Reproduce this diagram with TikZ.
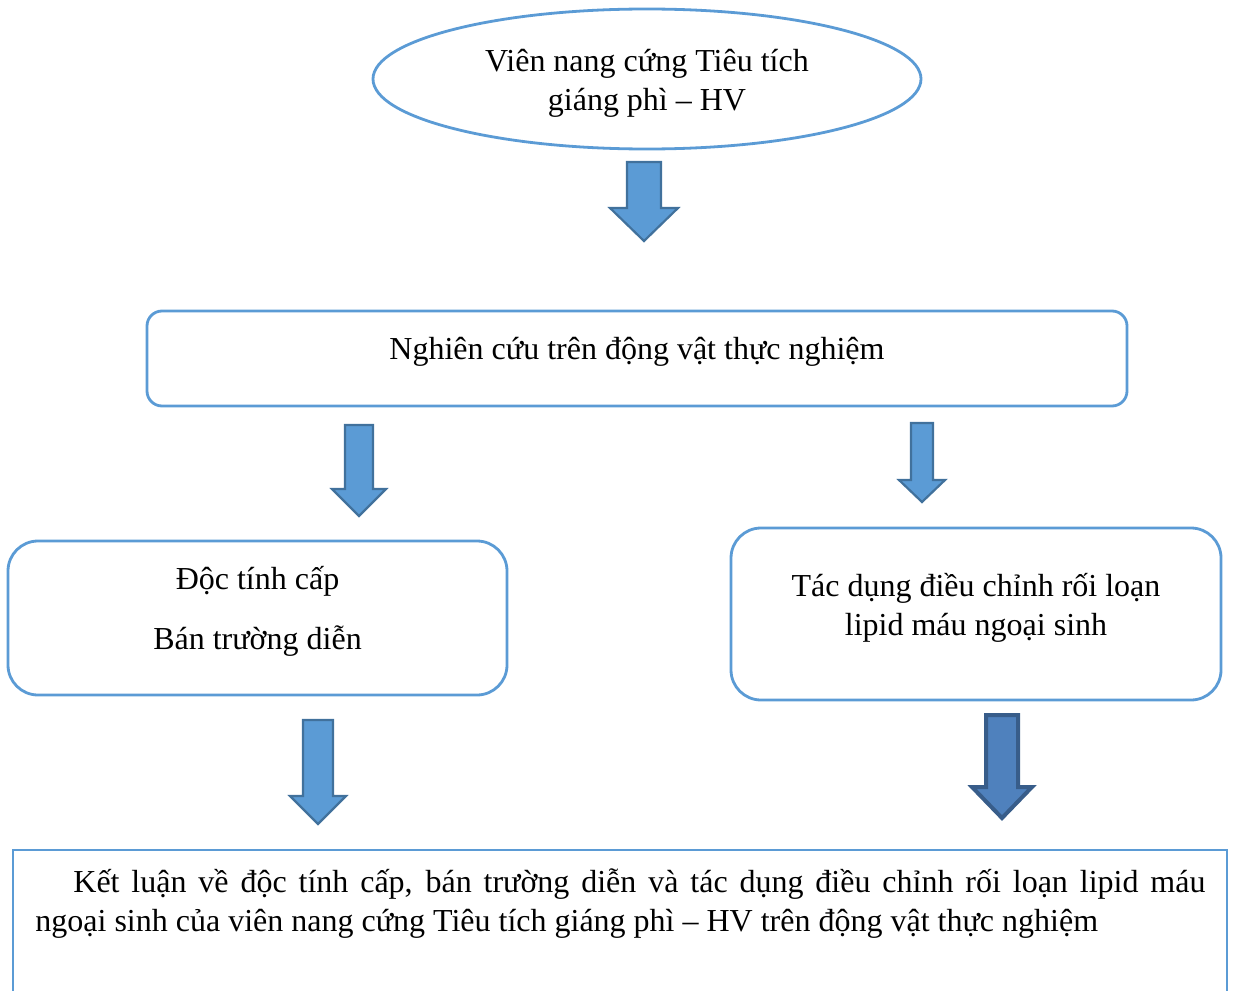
\documentclass[tikz,border=0pt]{standalone}
\usepackage{fontspec}
\setmainfont{Liberation Serif}
\usetikzlibrary{shapes.geometric}

\definecolor{officeblue}{HTML}{5B9BD5}
\definecolor{arrowline}{HTML}{41719C}
\definecolor{darkfill}{HTML}{4F81BD}
\definecolor{darkline}{HTML}{385D8A}

% lift a text block without changing the box size
\newcommand{\liftby}[2]{\raisebox{#1}[\height][\depth]{\begin{tabular}{@{}c@{}}#2\end{tabular}}}

\begin{document}
\begin{tikzpicture}[x=0.5pt,y=-0.5pt,
  font=\fontsize{16}{19.5}\selectfont,
  frame/.style={draw=officeblue,line width=1.4pt,fill=white,inner sep=0pt},
  roundbox/.style={frame,rounded corners=#1},
  blockarrow/.style={fill=officeblue,draw=arrowline,line width=1.1pt,line join=miter}]
\useasboundingbox (0,0) rectangle (1235,990);

% top oval, study box, the two result boxes and the conclusion box
\node[frame,ellipse,minimum width=274pt,minimum height=70pt]
  (drug) at (647,79) {\liftby{-2pt}{Viên nang cứng Tiêu tích\\giáng phì -- HV}};
\node[roundbox=7.5pt,minimum width=490pt,minimum height=47.5pt]
  (study) at (637,358.5) {\liftby{3.25pt}{Nghiên cứu trên động vật thực nghiệm}};
\node[roundbox=15pt,minimum width=249.5pt,minimum height=77pt]
  (tox) at (257.5,618) {\liftby{3pt}{Độc tính cấp\\[10.5pt]Bán trường diễn}};
\node[roundbox=15pt,minimum width=245pt,minimum height=86pt]
  (lipid) at (976,614) {\liftby{3pt}{Tác dụng điều chỉnh rối loạn\\lipid máu ngoại sinh}};
\draw[draw=officeblue,line width=1.4pt] (13,1010) |- (1227,850) -- (1227,1010);
\node[anchor=north west,inner sep=0pt,text width=585pt,align=justify]
  (concl) at (35,868) {\hspace*{19pt}Kết luận về độc tính cấp, bán trường diễn và tác dụng điều chỉnh rối loạn lipid máu\linebreak ngoại sinh của viên nang cứng Tiêu tích giáng phì -- HV trên động vật thực nghiệm};

% block arrows: centre x / top / neck / tip / half shaft / half head
\foreach \cx/\ya/\yb/\yc/\sw/\hw in {%
  644/162/208/241/17/34,%
  359/425/489/516/14/27,%
  922/423/480/502/11/23,%
  318/720/796/824/15/28}{
  \filldraw[blockarrow] (\cx-\sw,\ya) -- (\cx+\sw,\ya) -- (\cx+\sw,\yb) -- (\cx+\hw,\yb)
    -- (\cx,\yc) -- (\cx-\hw,\yb) -- (\cx-\sw,\yb) -- cycle;
}
\filldraw[blockarrow,fill=darkfill,draw=darkline,line width=2pt]
  (986,715) -- (1018,715) -- (1018,787) -- (1032,787) -- (1002,818)
  -- (972,787) -- (986,787) -- cycle;
\end{tikzpicture}
\end{document}
